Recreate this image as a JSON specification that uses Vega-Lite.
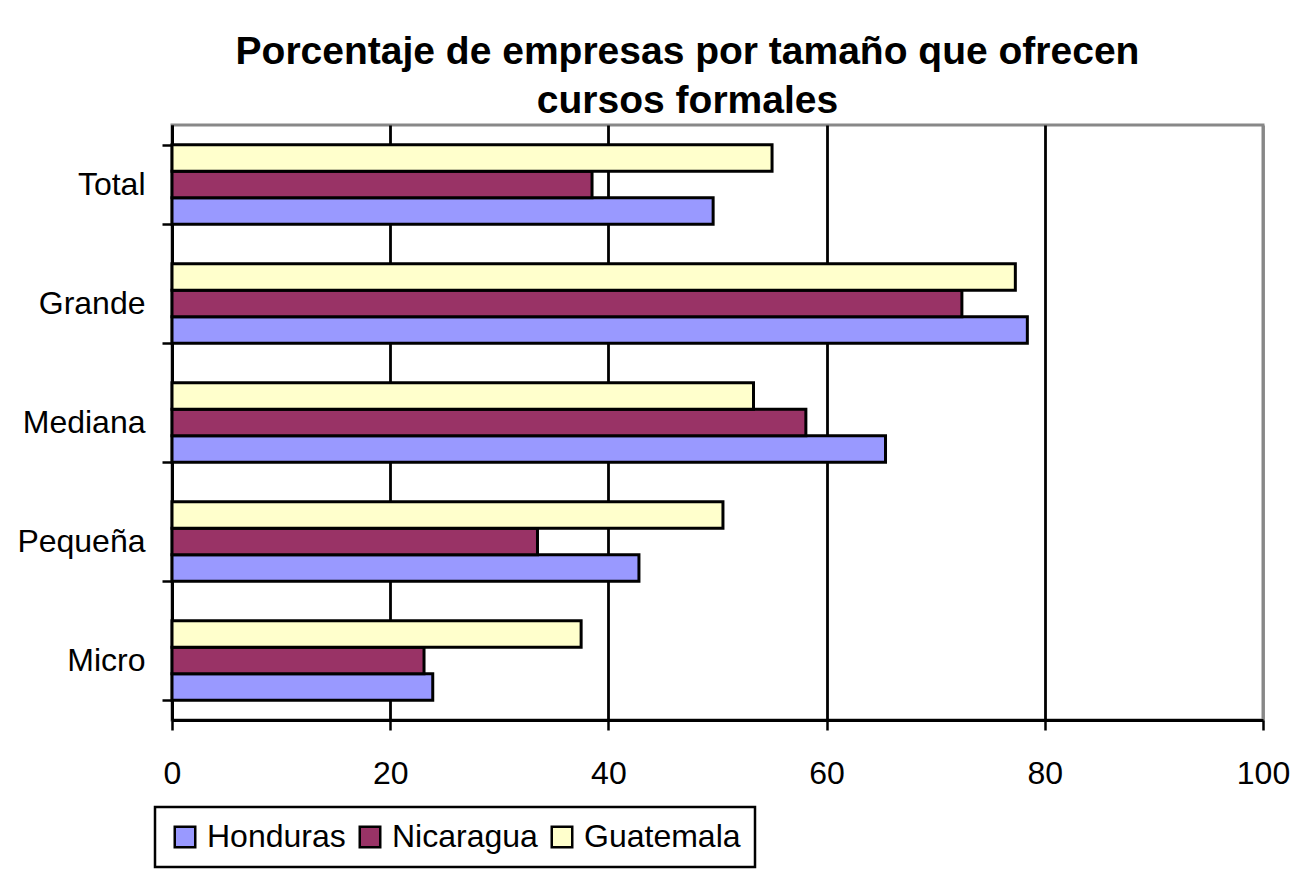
{
  "$schema": "https://vega.github.io/schema/vega-lite/v6.json",
  "autosize": {"type": "none"},
  "width": 1091,
  "height": 595,
  "padding": {"left": 172, "top": 125, "right": 38, "bottom": 164},
  "background": "white",
  "title": {
    "text": ["Porcentaje de empresas por tamaño que ofrecen", "cursos formales"],
    "font": "Liberation Sans",
    "fontSize": 39,
    "fontWeight": "bold",
    "color": "black",
    "anchor": "middle",
    "dx": -30,
    "dy": 57,
    "baseline": "bottom",
    "lineHeight": 49,
    "offset": 6
  },
  "data": {
    "values": [
      {"tamano": "Total", "pais": "Honduras", "valor": 49.6},
      {"tamano": "Total", "pais": "Nicaragua", "valor": 38.5},
      {"tamano": "Total", "pais": "Guatemala", "valor": 55.0},
      {"tamano": "Grande", "pais": "Honduras", "valor": 78.4},
      {"tamano": "Grande", "pais": "Nicaragua", "valor": 72.4},
      {"tamano": "Grande", "pais": "Guatemala", "valor": 77.3},
      {"tamano": "Mediana", "pais": "Honduras", "valor": 65.4},
      {"tamano": "Mediana", "pais": "Nicaragua", "valor": 58.1},
      {"tamano": "Mediana", "pais": "Guatemala", "valor": 53.3},
      {"tamano": "Pequeña", "pais": "Honduras", "valor": 42.8},
      {"tamano": "Pequeña", "pais": "Nicaragua", "valor": 33.5},
      {"tamano": "Pequeña", "pais": "Guatemala", "valor": 50.5},
      {"tamano": "Micro", "pais": "Honduras", "valor": 23.9},
      {"tamano": "Micro", "pais": "Nicaragua", "valor": 23.1},
      {"tamano": "Micro", "pais": "Guatemala", "valor": 37.5}
    ]
  },
  "mark": {"type": "bar", "stroke": "black", "strokeWidth": 3, "cornerRadius": 0},
  "encoding": {
    "y": {
      "field": "tamano",
      "type": "nominal",
      "sort": ["Total", "Grande", "Mediana", "Pequeña", "Micro"],
      "scale": {"paddingInner": 0.33, "paddingOuter": 0.165},
      "axis": {
        "title": null,
        "tickBand": "extent",
        "labelFont": "Liberation Sans",
        "labelFontSize": 32,
        "labelColor": "black",
        "labelPadding": 17,
        "tickSize": 10,
        "tickColor": "black",
        "tickWidth": 2.5,
        "domainColor": "black",
        "domainWidth": 3,
        "grid": false
      }
    },
    "yOffset": {
      "field": "pais",
      "type": "nominal",
      "sort": ["Guatemala", "Nicaragua", "Honduras"],
      "scale": {"paddingInner": 0, "paddingOuter": 0}
    },
    "x": {
      "field": "valor",
      "type": "quantitative",
      "scale": {"domain": [0, 100], "nice": false},
      "axis": {
        "title": null,
        "values": [0, 20, 40, 60, 80, 100],
        "labelFont": "Liberation Sans",
        "labelFontSize": 32,
        "labelColor": "black",
        "labelPadding": 28,
        "labelFlush": false,
        "tickSize": 10,
        "tickColor": "black",
        "tickWidth": 2.5,
        "domainColor": "black",
        "domainWidth": 3,
        "grid": true,
        "gridColor": {"condition": {"test": "datum.value == 100", "value": "#888888"}, "value": "black"},
        "gridWidth": 2.8,
        "gridOpacity": 1
      }
    },
    "color": {
      "field": "pais",
      "type": "nominal",
      "scale": {
        "domain": ["Honduras", "Nicaragua", "Guatemala"],
        "range": ["#9999FF", "#993366", "#FFFFCC"]
      },
      "legend": {
        "title": null,
        "orient": "none",
        "direction": "horizontal",
        "legendX": -17,
        "legendY": 682,
        "strokeColor": "black",
        "padding": 14,
        "symbolType": "square",
        "symbolSize": 420,
        "symbolStrokeColor": "black",
        "symbolStrokeWidth": 2.5,
        "symbolOpacity": 1,
        "labelFont": "Liberation Sans",
        "labelFontSize": 32,
        "labelColor": "black",
        "labelOffset": 6,
        "columnPadding": 8,
        "labelLimit": 400
      }
    }
  },
  "config": {
    "view": {"stroke": "#888888", "strokeWidth": 3},
    "legend": {"strokeWidth": 2.5}
  }
}
